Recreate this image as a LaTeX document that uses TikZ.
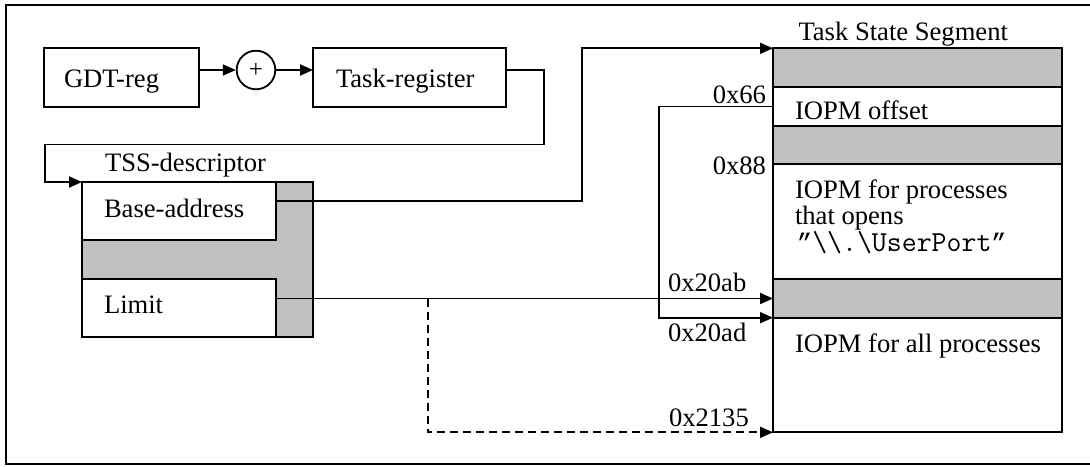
\documentclass[tikz,border=0pt]{standalone}
\usepackage{fontspec}
\setmainfont{Liberation Serif}
\newfontfamily\monofnt{Liberation Mono}
\usetikzlibrary{arrows.meta}
\definecolor{tssgray}{HTML}{C0C0C0}
\newcommand{\slq}{{\monofnt\fontsize{25.4}{30}\selectfont ”}}
\begin{document}
\begin{tikzpicture}[x=1pt,y=-1pt,
  font=\fontsize{26.6}{30}\selectfont,
  box/.style={draw, line width=2.2pt, fill=white, inner sep=0pt, outer sep=0pt},
  gbox/.style={box, fill=tssgray},
  lbl/.style={anchor=base west, inner sep=0pt, outer sep=0pt},
  lblr/.style={anchor=base east, inner sep=0pt, outer sep=0pt},
  ln/.style={line width=1.8pt},
  arr/.style={ln, -{Triangle[length=13pt,width=11pt]}},
  dsh/.style={arr, dash pattern=on 8pt off 5pt}]
\useasboundingbox (0,0) rectangle (1090,466);
% frame
\draw[line width=2pt] (1095,5) -- (5.5,5) -- (5.5,464.3) -- (1095,464.3);

% top row
\node[box, minimum width=155pt, minimum height=58.4pt] (gdt) at (121.5,77.5) {};
\node[lbl] (gdtt) at (64,87) {GDT-reg};
\node[draw, circle, line width=1.8pt, minimum size=38.6pt, inner sep=0pt, font=\fontsize{25}{25}\selectfont] (plus) at (256,70) {+};
\node[box, minimum width=193pt, minimum height=58.4pt] (tr) at (409.5,77.5) {};
\node[lbl] (trt) at (336,87) {Task-register};

\draw[arr] (gdt.east |- plus.west) -- (plus.west);
\draw[arr] (plus.east) -- (plus.east -| tr.west);

% descriptor
\node[gbox, minimum width=231pt, minimum height=155pt] (desc) at (197.5,259.5) {};
\node[box, minimum width=194pt, minimum height=58pt] (base) at (179,211) {};
\node[box, minimum width=194pt, minimum height=58pt] (limit) at (179,308) {};
\node[lbl] (desct) at (105,171) {TSS-descriptor};
\node[lbl] (baset) at (104,217) {Base-address};
\node[lbl] (limitt) at (104,313) {Limit};

\coordinate (c1) at (543.7,144.5);
\coordinate (c2) at (45,144.5);
\draw[arr] (tr.east |- plus.east) -| (c1) -- (c2) |- (desc.north west);

% TSS
\node[gbox, minimum width=289.3pt, minimum height=39pt]   (b1) at (917.65,67.8) {};
\node[box,  minimum width=289.3pt, minimum height=38.4pt] (b2) at (917.65,106.5) {};
\node[gbox, minimum width=289.3pt, minimum height=38.3pt] (b3) at (917.65,144.85) {};
\node[box,  minimum width=289.3pt, minimum height=115.3pt] (b4) at (917.65,221.65) {};
\node[gbox, minimum width=289.3pt, minimum height=38.4pt] (b5) at (917.65,298.5) {};
\node[box,  minimum width=289.3pt, minimum height=114.6pt] (b6) at (917.65,375) {};

\node[lbl] (tsst) at (798.5,40) {Task State Segment};
\node[lbl] (t2) at (795,119) {IOPM offset};
\node[lbl] (t4a) at (795,198) {IOPM for processes};
\node[lbl] (t4b) at (795,224.5) {that opens};
\node[lbl] (t4c) at (797,251) {\ttfamily\fontsize{29}{30}\selectfont \slq\textbackslash\textbackslash.\textbackslash UserPort\slq};
\node[lbl] (t6) at (795,352) {IOPM for all processes};

% offset labels
\node[lblr] (o66) at (766,103) {0x66};
\node[lblr] (o88) at (766,174) {0x88};
\node[lbl] (oab) at (668,291.7) {0x20ab};
\node[lbl] (oad) at (668,341.7) {0x20ad};
\node[lbl] (o35) at (669,426.7) {0x2135};

% base-address to TSS
\path (base.east) ++(0,-10) coordinate (bo);
\draw[arr] (bo) -- (582,201) |- (b1.north west);

% IOPM offset loop
\coordinate (lp) at (659,106.5);
\draw[arr] (b2.west) -- (lp) |- (b6.north west);

% limit
\path (limit.east) ++(0,-9.5) coordinate (lo);
\draw[arr] (lo) -- (lo -| b5.west);
\coordinate (ds) at (428,298.5);
\draw[dsh] (ds) |- (b6.south west);
\end{tikzpicture}
\end{document}
